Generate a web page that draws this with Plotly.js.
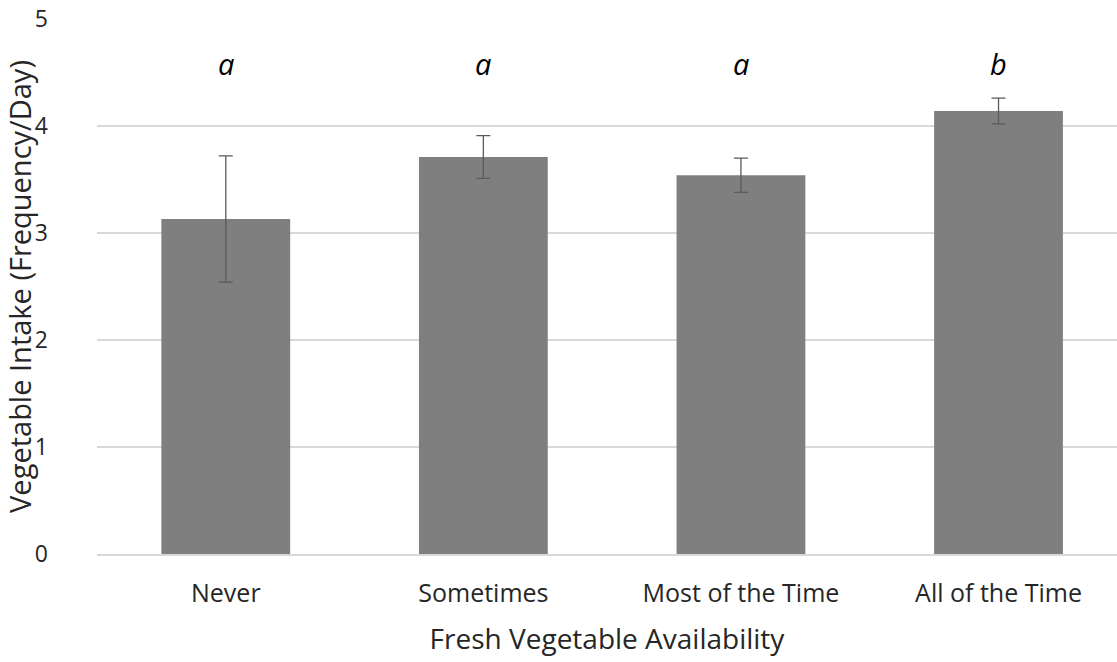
<!DOCTYPE html>
<html>
<head>
<meta charset="utf-8">
<script src="https://cdn.plot.ly/plotly-3.0.1.min.js"></script>
<style>
html,body{margin:0;padding:0;background:#fff;overflow:hidden;}
#chart{width:1117px;height:662px;}
</style>
</head>
<body>
<div id="chart"></div>
<script>
const categories = ["Never", "Sometimes", "Most of the Time", "All of the Time"];
const intake = [3.13, 3.71, 3.54, 4.14];
const errors = [0.59, 0.20, 0.16, 0.12];
const groupLetters = ["a", "a", "a", "b"];
const letterY = [4.58, 4.58, 4.58, 4.58];
const yTicks = [0, 1, 2, 3, 4, 5];

const fontFamily = "'Open Sans', 'Liberation Sans', sans-serif";

const trace = {
  type: "bar",
  x: categories,
  y: intake,
  width: 0.5,
  marker: {color: "#7f7f7f", line: {width: 0}},
  error_y: {type: "data", array: errors, visible: true, color: "#5a5a5a", thickness: 1.3, width: 7},
  hoverinfo: "x+y"
};

const annotations = categories.map((c, i) => ({
  x: c, y: letterY[i], xref: "x", yref: "y",
  text: "<i>" + groupLetters[i] + "</i>",
  showarrow: false,
  font: {family: fontFamily, size: 29, color: "#000"},
  yanchor: "middle"
}));

const layout = {
  width: 1117, height: 662,
  margin: {l: 97, r: 0, t: 19, b: 108},
  paper_bgcolor: "#fff", plot_bgcolor: "#fff",
  showlegend: false,
  font: {family: fontFamily, color: "#404040"},
  xaxis: {
    type: "category",
    range: [-0.5, 3.46],
    showgrid: false,
    showline: true, linecolor: "#d9d9d9", linewidth: 1.5,
    ticks: "",
    ticklabelstandoff: 16,
    tickfont: {size: 25, color: "#262626"},
    title: {text: "Fresh Vegetable Availability", font: {size: 28, color: "#262626"}, standoff: 22}
  },
  yaxis: {
    range: [0, 5],
    tickvals: yTicks,
    showgrid: true, gridcolor: "#d9d9d9", gridwidth: 1.5,
    zeroline: false, showline: false,
    ticks: "",
    ticklabelstandoff: 48,
    tickfont: {size: 23, color: "#262626"},
    title: {text: "Vegetable Intake (Frequency/Day)", font: {size: 29, color: "#262626"}, standoff: 2}
  },
  annotations: annotations
};

Plotly.newPlot("chart", [trace], layout, {displayModeBar: false, staticPlot: true});
</script>
</body>
</html>
